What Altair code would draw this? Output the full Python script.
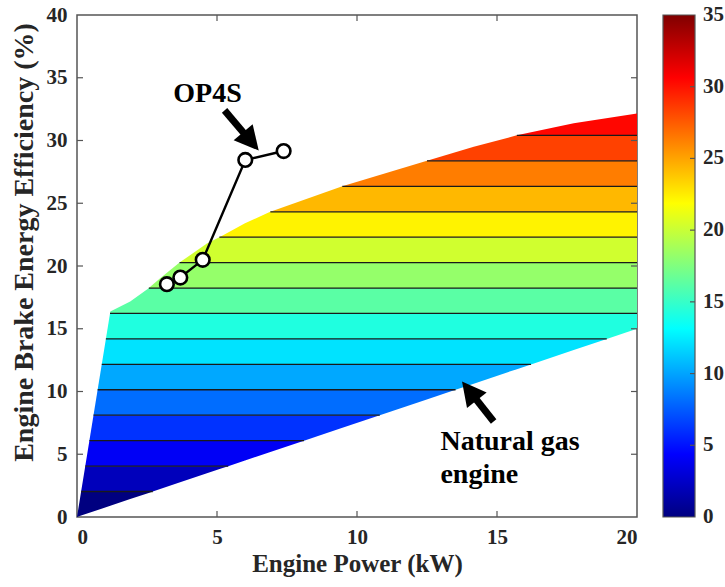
import altair as alt
import numpy as np
import pandas as pd

# ---------------- data ----------------
# upper envelope of the natural-gas engine efficiency map (kW, %)
upper_x = [0.0, 1.19, 1.90, 2.56, 2.97, 3.63, 4.64, 5.12, 6.00, 6.88, 9.40, 12.44, 14.17, 15.71, 17.74, 20.0]
upper_y = [0.0, 16.37, 17.17, 18.23, 19.03, 20.22, 21.80, 22.34, 23.40, 24.30, 26.30, 28.34, 29.50, 30.41, 31.37, 32.16]
# lower envelope (straight line)
lower_x = [0.0, 20.0]
lower_y = [0.0, 15.0]
# filled contour levels
levels = [0.0, 2.03, 4.05, 6.08, 8.11, 10.14, 12.16, 14.19, 16.22, 18.24,
          20.27, 22.30, 24.32, 26.35, 28.38, 30.41]
top_level = 40.0

# OP4S operating points
op_x = [3.21, 3.69, 4.49, 6.01, 7.38]
op_y = [18.55, 19.08, 20.49, 28.45, 29.16]

x_ticks = [0, 5, 10, 15, 20]
y_ticks = [0, 5, 10, 15, 20, 25, 30, 35, 40]
cbar_ticks = [0, 5, 10, 15, 20, 25, 30, 35]

# annotations
labels_text = ["OP4S", "Natural gas", "engine"]
labels_x = [4.66, 12.98, 12.98]
labels_y = [33.09, 5.36, 2.70]
labels_align = ["center", "left", "left"]

arrow_tail_x = [5.27, 14.88]
arrow_tail_y = [32.40, 7.61]
arrow_tip_x = [6.49, 13.75]
arrow_tip_y = [29.20, 10.80]
arrow_angle = [139.6, 321.8]

# jet colormap anchors (fraction of 0..35 colour range)
jet_pos = [0.0, 0.125, 0.375, 0.625, 0.875, 1.0]
jet_col = ["#000080", "#0000ff", "#00ffff", "#ffff00", "#ff0000", "#800000"]
cmin, cmax = 0.0, 35.0

# ---------------- derived tables ----------------
def up(x):
    return float(np.interp(x, upper_x, upper_y))

def lo(x):
    return float(np.interp(x, lower_x, lower_y))

def up_inv(y):
    return float(np.interp(y, upper_y, upper_x))

def lo_inv(y):
    return float(np.interp(y, lower_y, lower_x))

bounds = levels + [top_level]
rows = []
for k in range(len(levels)):
    a, b = bounds[k], bounds[k + 1]
    xs = up_inv(a)
    xe = lo_inv(b)
    cand = [xs, xe] + [x for x in upper_x if xs < x < xe]
    for c in (up_inv(b), lo_inv(a)):
        if xs < c < xe:
            cand.append(c)
    for x in sorted(set(cand)):
        rows.append(dict(band=k, lev=a, x=x, yb=max(a, lo(x)), yt=min(b, up(x))))
bands_df = pd.DataFrame(rows)

line_rows = []
for L in levels[1:]:
    line_rows.append(dict(x=up_inv(L), x2=lo_inv(L), y=L))
lines_df = pd.DataFrame(line_rows)

op_df = pd.DataFrame(dict(x=op_x, y=op_y))
lab_df = pd.DataFrame(dict(t=labels_text, x=labels_x, y=labels_y, al=labels_align))
arr_df = pd.DataFrame(dict(tx=arrow_tail_x, ty=arrow_tail_y, hx=arrow_tip_x, hy=arrow_tip_y, ang=arrow_angle))
arr_df["sx"] = arr_df["hx"] + 0.42 * (arr_df["tx"] - arr_df["hx"])
arr_df["sy"] = arr_df["hy"] + 0.42 * (arr_df["ty"] - arr_df["hy"])

inner_x = pd.DataFrame(dict(t=x_ticks[1:-1]))
inner_y = pd.DataFrame(dict(t=y_ticks[1:-1]))
cbar_df = pd.DataFrame(dict(v0=[cmin], v1=[cmax]))
cbar_t = pd.DataFrame(dict(t=cbar_ticks))
cbar_inner = pd.DataFrame(dict(t=cbar_ticks[1:-1]))

# ---------------- styling ----------------
W, H = 560, 502
FONT = "Liberation Serif"
TXT = "#262626"
FRAME = "#555555"

xscale = alt.Scale(domain=[0, 20], nice=False, zero=False)
yscale = alt.Scale(domain=[0, 40], nice=False, zero=False)
xaxis = alt.Axis(values=x_ticks, title="Engine Power (kW)", ticks=False, domain=False, grid=False,
                 labelPadding=9, titlePadding=4, format="d", titleFontSize=25)
yaxis = alt.Axis(values=y_ticks, title="Engine Brake Energy Efficiency (%)", ticks=False, domain=False,
                 grid=False, labelPadding=10, titlePadding=8, format="d", titleFontSize=28, titleY=227)

def X(f):
    return alt.X(f, type="quantitative", scale=xscale, axis=xaxis)

def Y(f):
    return alt.Y(f, type="quantitative", scale=yscale, axis=yaxis)

cscale = alt.Scale(domain=[cmin + p * (cmax - cmin) for p in jet_pos], range=jet_col, interpolate="rgb")

bands = alt.Chart(bands_df).mark_area(interpolate="linear", opacity=1).encode(
    x=X("x"), y=Y("yb"), y2="yt",
    color=alt.Color("lev:Q", scale=cscale, legend=None),
    detail="band:N",
)

contours = alt.Chart(lines_df).mark_rule(color="#1a1a1a", strokeWidth=1.3).encode(
    x=X("x"), x2="x2", y=Y("y")
)

op_line = alt.Chart(op_df).mark_line(color="black", strokeWidth=2.4).encode(x=X("x"), y=Y("y"))
op_pts = alt.Chart(op_df).mark_point(shape="circle", size=185, fill="white", fillOpacity=1,
                                     stroke="black", strokeWidth=2.6, opacity=1).encode(x=X("x"), y=Y("y"))

shafts = alt.Chart(arr_df).mark_rule(color="black", strokeWidth=7).encode(
    x=X("tx"), y=Y("ty"), x2="sx", y2="sy")
heads = alt.Chart(arr_df).mark_point(shape="M0,0L0.52,1L-0.52,1Z", size=2304, filled=True,
                                     color="black", opacity=1, strokeWidth=0).encode(
    x=X("hx"), y=Y("hy"), angle=alt.Angle("ang:Q", scale=None))

def ann(al):
    return alt.Chart(lab_df).transform_filter(alt.datum.al == al).mark_text(
        font=FONT, fontWeight="bold", fontSize=28, color="black", align=al, baseline="alphabetic"
    ).encode(x=X("x"), y=Y("y"), text="t:N")

tk = dict(color=FRAME, strokeWidth=1.2)
bt = alt.Chart(inner_x).mark_rule(**tk).encode(x=X("t"), y=alt.value(H), y2=alt.value(H - 6))
tt = alt.Chart(inner_x).mark_rule(**tk).encode(x=X("t"), y=alt.value(0), y2=alt.value(6))
lt = alt.Chart(inner_y).mark_rule(**tk).encode(y=Y("t"), x=alt.value(0), x2=alt.value(6))
rt = alt.Chart(inner_y).mark_rule(**tk).encode(y=Y("t"), x=alt.value(W), x2=alt.value(W - 6))

main = alt.layer(bands, contours, op_line, op_pts, shafts, heads, ann("center"), ann("left"), bt, tt, lt, rt)

# colour bar (own vertical scale 0..35)
cb_scale = alt.Scale(domain=[cmin, cmax], nice=False, zero=False)
grad = alt.LinearGradient(gradient="linear", x1=0, y1=1, x2=0, y2=0,
                          stops=[alt.GradientStop(offset=p, color=c) for p, c in zip(jet_pos, jet_col)])
CB_L, CB_R = 586, 618
cbar = alt.Chart(cbar_df).mark_rect(color=grad, stroke=FRAME, strokeWidth=1.2).encode(
    y=alt.Y("v0:Q", scale=cb_scale, axis=None), y2="v1:Q",
    x=alt.value(CB_L), x2=alt.value(CB_R))
cbar_ticks_m = alt.Chart(cbar_inner).mark_rule(**tk).encode(
    y=alt.Y("t:Q", scale=cb_scale, axis=None), x=alt.value(CB_R - 5), x2=alt.value(CB_R))
cbar_lab = alt.Chart(cbar_t).mark_text(font=FONT, fontWeight="bold", fontSize=21, color=TXT,
                                       align="left", baseline="middle").encode(
    y=alt.Y("t:Q", scale=cb_scale, axis=None), x=alt.value(CB_R + 8), text="t:Q")
cb = alt.layer(cbar, cbar_ticks_m, cbar_lab)

chart = alt.layer(main, cb).resolve_scale(y="independent").properties(
    width=W, height=H,
    background="white",
    autosize=alt.AutoSizeParams(type="none"),
    padding={"left": 77, "top": 15, "right": 88, "bottom": 70},
).configure_view(stroke=FRAME, strokeWidth=1.5).configure_axis(
    labelFont=FONT, labelFontWeight="bold", labelFontSize=21, labelColor=TXT,
    titleFont=FONT, titleFontWeight="bold", titleColor=TXT,
)

chart.save("out.html", embed_options={"renderer": "svg", "actions": False})
